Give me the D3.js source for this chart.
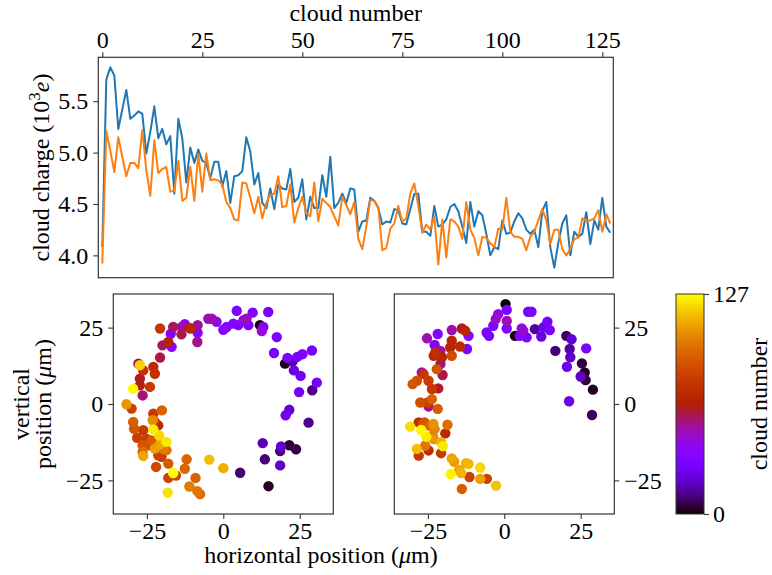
<!DOCTYPE html>
<html>
<head>
<meta charset="utf-8">
<script src="https://cdn.jsdelivr.net/npm/d3@7"></script>
<style>
  html, body { margin: 0; padding: 0; background: #fff; }
  svg { display: block; font-family: "Liberation Serif", "Times New Roman", serif; }
</style>
</head>
<body>
<svg id="fig" width="772" height="575"></svg>
<script>
// Cloud charge for each cloud number, two measurement channels
const chargeBlue = [4.08,5.71,5.83,5.75,5.23,5.42,5.61,5.33,5.36,5.40,5.38,4.99,5.20,5.45,5.14,5.23,5.08,5.16,4.60,5.33,
  5.14,4.71,5.05,4.90,5.03,4.92,4.90,4.75,4.91,4.91,4.67,4.82,4.51,4.77,4.78,4.82,5.15,5.01,4.69,4.80,
  4.51,4.46,4.65,4.45,4.69,4.65,4.64,4.84,4.52,4.56,4.74,4.35,4.57,4.46,4.46,4.78,4.57,4.96,4.46,4.51,
  4.60,4.51,4.65,4.64,4.23,4.33,4.34,4.56,4.53,4.46,4.30,4.33,4.32,4.45,4.44,4.31,4.30,4.45,4.60,4.60,
  4.23,4.23,4.19,4.48,4.28,4.30,4.35,4.47,4.50,4.43,4.28,4.12,4.52,4.28,4.43,4.39,4.21,4.00,4.08,4.06,
  4.34,4.21,4.22,4.33,4.41,4.36,4.25,4.21,4.25,4.08,4.43,4.52,4.08,3.88,4.12,4.31,4.39,4.00,4.23,4.18,
  4.21,4.42,4.11,4.34,4.25,4.56,4.28,4.22];
const chargeOrange = [3.92,5.21,5.02,4.81,5.15,4.96,4.77,4.90,4.90,4.85,5.22,4.83,4.58,5.12,4.80,4.84,4.86,4.62,4.63,4.92,
  4.53,4.56,4.86,4.53,4.99,4.62,4.99,4.73,4.74,4.73,4.69,4.52,4.46,4.35,4.34,4.71,4.70,4.56,4.41,4.57,
  4.36,4.51,4.59,4.60,4.77,4.47,4.48,4.69,4.32,4.46,4.57,4.41,4.38,4.71,4.33,4.55,4.51,4.47,4.38,4.29,
  4.57,4.49,4.40,4.52,4.16,4.06,4.28,4.54,4.53,4.47,4.05,4.07,4.26,4.31,4.48,4.33,4.36,4.60,4.70,4.48,
  4.22,4.30,4.25,4.38,3.91,4.35,3.98,4.35,4.33,4.28,4.16,4.52,4.25,4.17,4.00,4.18,4.17,4.12,4.08,4.26,
  4.25,4.56,4.23,4.18,4.18,4.16,4.05,4.18,4.23,4.34,4.45,4.34,4.11,4.25,4.25,4.06,4.00,4.06,4.16,4.17,
  4.36,4.34,4.34,4.36,4.44,4.23,4.40,4.31];

const cloudTicks = [0, 25, 50, 75, 100, 125];
const chargeTicks = [4.0, 4.5, 5.0, 5.5];
const posTicks = [-25, 0, 25];
const cloudMax = 127;

// Cloud positions (µm) in the two views, with the cloud number of each
const leftX = [-20.7,-17.2,-16.4,-13.6,-12.6,-13.7,-11.1,-10.7,-8.4,-8.4,-8.5,-16.9,-18.0,-19.9,-20.7,-4.9,-3.8,-2.2,0.0,1.1,
  4.4,3.3,4.9,6.6,7.6,8.2,9.6,14.7,12.0,13.1,12.6,17.5,16.6,20.2,21.0,22.7,24.2,25.9,29.0,23.1,
  25.3,30.6,24.8,29.1,21.6,20.4,27.9,12.9,18.9,18.6,21.6,23.8,13.6,18.6,5.5,14.8,
  -4.6,0.0,-12.0,-12.6,-9.1,-11.1,-8.5,-7.6,-18.2,-16.4,-18.0,-15.5,-18.0,-22.0,-18.6,-21.0,-22.9,-20.7,-22.4,-19.7,
  -18.6,-21.3,-20.2,-26.2,-26.4,-23.5,-25.1,-28.2,-26.4,-24.0,-26.2,-29.2,-29.5,-22.9,-23.1,-21.3,-22.4,-20.1,-31.7,-30.0,
  -29.5,-26.4,-24.0,-27.3,-27.3,-27.8,-27.3,-26.2,-22.9,-22.4];
const leftY = [24.7,23.0,25.2,25.2,26.1,22.8,24.9,24.7,25.8,23.3,20.3,18.7,20.3,19.2,15.2,27.9,27.9,26.9,24.3,25.2,
  30.5,26.3,25.8,27.4,27.9,25.8,29.9,30.1,25.8,25.2,23.9,21.9,16.7,13.2,15.1,14.0,15.4,16.3,17.5,11.0,
  9.2,7.0,3.9,4.5,-1.9,-3.7,-6.1,-12.8,-13.9,-15.4,-13.5,-14.8,-18.1,-20.1,-22.5,-26.9,
  -18.2,-21.0,-18.1,-21.2,-24.2,-27.0,-28.5,-29.5,-29.0,-22.6,-24.2,-23.4,-19.5,-20.6,-12.4,-10.3,-8.3,-13.2,-14.6,-14.6,
  -15.1,-16.8,-17.3,-17.0,-15.7,-11.9,-11.4,-11.1,-13.5,-13.5,-8.6,-8.1,-5.9,-3.2,-5.3,-7.0,-5.9,-2.1,-0.1,-1.5,
  5.0,2.8,5.6,6.1,8.3,13.2,12.7,11.0,12.1,9.9];
const leftN = [75,32,56,48,34,57,66,68,50,36,52,35,65,55,58,47,48,38,36,33,
  30,34,31,42,46,33,31,29,1,33,42,30,28,2,30,15,28,30,28,22,
  25,27,26,12,20,25,12,16,20,11,4,6,10,18,9,3,
  115,112,93,94,92,100,98,96,122,127,80,82,90,83,123,120,124,110,108,100,
  97,80,78,110,95,90,78,79,88,86,77,88,91,76,104,70,72,92,106,80,
  126,54,78,62,60,58,119,74,70,73];

const rightX = [0.4,0.8,-2.0,-2.8,0.8,0.8,-3.6,-5.8,-5.0,3.5,5.1,6.2,5.7,7.3,7.8,8.9,10.0,12.1,12.8,14.1,
  14.9,20.3,22.0,26.8,16.7,21.4,21.6,20.5,25.4,26.3,25.0,26.6,29.0,21.2,28.7,
  -25.3,-21.8,-22.8,-17.2,-13.9,-12.8,-11.7,-12.2,-17.2,-17.7,-14.5,-20.9,-22.6,-23.1,-20.4,-17.2,-20.9,-22.1,-20.2,-26.4,
  -27.0,-28.6,-30.0,-24.8,-23.7,-21.6,-23.7,-25.1,-27.5,-24.8,-21.8,-26.1,-28.0,-23.2,-18.6,-19.3,-30.8,-27.2,-25.5,-23.5,
  -20.7,-20.1,-25.9,-28.6,-28.0,-24.8,-20.7,-17.2,-16.4,-12.5,-11.7,-7.9,-14.8,-14.1,-17.5,-11.4,-7.9,-5.7,-2.7,-13.9,
  -26.7,-24.5,-22.8,-23.1];
const rightY = [32.7,30.8,29.4,27.8,27.2,24.7,25.6,23.4,22.3,22.3,22.3,24.0,24.7,21.8,30.2,30.2,24.5,22.1,25.1,26.9,
  24.2,22.3,21.2,18.2,17.4,18.0,15.3,12.2,13.3,10.3,9.0,7.8,4.7,0.9,-3.6,
  21.5,22.9,19.3,24.2,24.7,24.0,22.3,18.0,20.7,18.5,18.8,17.4,16.9,15.8,15.3,15.8,13.1,11.4,9.5,9.8,
  10.3,7.6,6.5,7.6,4.9,5.1,1.6,0.5,0.5,-0.8,-1.6,-6.0,-6.0,-6.5,-6.8,-9.6,-7.4,-8.5,-10.7,-10.4,
  -12.5,-13.8,-13.6,-14.7,-16.9,-15.2,-16.1,-17.8,-18.9,-19.4,-19.6,-20.8,-21.6,-22.6,-22.9,-23.9,-24.5,-24.5,-26.7,-27.8,
  -6.5,-7.1,-8.2,-11.5];
const rightN = [0,30,40,45,48,32,33,30,28,2,32,44,42,30,28,30,14,22,24,28,
  30,8,20,28,10,14,18,24,5,2,18,5,3,24,7,
  48,33,31,48,60,66,35,30,68,66,70,50,72,68,66,85,52,88,58,76,
  50,86,88,78,76,60,92,80,86,52,90,88,70,105,96,68,121,126,124,95,
  113,123,98,115,76,72,78,110,108,112,114,120,111,113,125,80,109,82,116,90,
  84,94,102,106];

// gnuplot colour map: r = sqrt(t), g = t^3, b = sin(2πt), clipped to [0, 1]
function gnuplot(t) {
  const c = v => Math.round(255 * Math.max(0, Math.min(1, v)));
  return `rgb(${c(Math.sqrt(t))},${c(t * t * t)},${c(Math.sin(2 * Math.PI * t))})`;
}
const colour = n => gnuplot(n / cloudMax);

const svg = d3.select("#fig");
const FS = 24;
const spine = "#333";

function frame(g, x0, y0, x1, y1) {
  g.append("rect").attr("x", x0).attr("y", y0).attr("width", x1 - x0).attr("height", y1 - y0)
    .attr("fill", "none").attr("stroke", spine).attr("stroke-width", 1.2);
}
function styleAxis(sel) {
  sel.select(".domain").remove();
  sel.selectAll(".tick line").attr("stroke", spine).attr("stroke-width", 1.1);
  sel.selectAll(".tick text").attr("font-size", FS).attr("fill", "#000")
    .attr("font-family", "Liberation Serif, serif");
}
const fmtMinus = d => d < 0 ? "\u2212" + Math.abs(d) : String(d);

// ---------- Top panel: cloud charge vs cloud number ----------
const topBox = { l: 98.3, r: 613.3, t: 57.3, b: 277.7 };
const xCloud = d3.scaleLinear().domain([-1, 127.75]).range([topBox.l, topBox.r]);
const allCharge = chargeBlue.concat(chargeOrange);
const cMin = d3.min(allCharge), cMax = d3.max(allCharge), pad = 0.05 * (cMax - cMin);
const yCharge = d3.scaleLinear().domain([cMin - pad, cMax + pad]).range([topBox.b, topBox.t]);

const gTop = svg.append("g");
gTop.append("defs").append("clipPath").attr("id", "clipTop")
  .append("rect").attr("x", topBox.l).attr("y", topBox.t).attr("width", topBox.r - topBox.l).attr("height", topBox.b - topBox.t);

const chargeLine = d3.line().x((d, i) => xCloud(i)).y(d => yCharge(d));
gTop.append("path").datum(chargeBlue).attr("d", chargeLine).attr("fill", "none")
  .attr("stroke", "#1f77b4").attr("stroke-width", 2).attr("stroke-linejoin", "round").attr("clip-path", "url(#clipTop)");
gTop.append("path").datum(chargeOrange).attr("d", chargeLine).attr("fill", "none")
  .attr("stroke", "#ff7f0e").attr("stroke-width", 2).attr("stroke-linejoin", "round").attr("clip-path", "url(#clipTop)");

gTop.append("g").attr("transform", `translate(0,${topBox.t})`)
  .call(d3.axisTop(xCloud).tickValues(cloudTicks).tickSize(5).tickPadding(4).tickFormat(d3.format("d")))
  .call(styleAxis);
gTop.append("g").attr("transform", `translate(${topBox.l},0)`)
  .call(d3.axisLeft(yCharge).tickValues(chargeTicks).tickSize(5).tickPadding(5).tickFormat(d3.format(".1f")))
  .call(styleAxis);
frame(gTop, topBox.l, topBox.t, topBox.r, topBox.b);

gTop.append("text").attr("x", (topBox.l + topBox.r) / 2).attr("y", 21).attr("text-anchor", "middle")
  .attr("font-size", FS).text("cloud number");

const yl = gTop.append("text").attr("transform", `translate(49,${(topBox.t + topBox.b) / 2}) rotate(-90)`)
  .attr("text-anchor", "middle").attr("font-size", FS);
yl.append("tspan").text("cloud charge (10");
yl.append("tspan").attr("dy", -9).attr("font-size", 17).text("3");
yl.append("tspan").attr("dy", 9).attr("font-style", "italic").text("e");
yl.append("tspan").text(")");

// ---------- Bottom panels: cloud positions ----------
const lim = 36;
function scatterPanel(x0, y0, size, xs, ys, ns, yAxisSide) {
  const g = svg.append("g");
  const sx = d3.scaleLinear().domain([-lim, lim]).range([x0, x0 + size]);
  const sy = d3.scaleLinear().domain([-lim, lim]).range([y0 + size, y0]);
  const pts = ns.map((n, i) => ({ x: xs[i], y: ys[i], n })).sort((a, b) => a.n - b.n);
  g.selectAll("circle").data(pts).join("circle")
    .attr("cx", d => sx(d.x)).attr("cy", d => sy(d.y)).attr("r", 5.2)
    .attr("fill", d => colour(d.n));
  g.append("g").attr("transform", `translate(0,${y0 + size})`)
    .call(d3.axisBottom(sx).tickValues(posTicks).tickSize(5).tickPadding(3).tickFormat(fmtMinus))
    .call(styleAxis);
  if (yAxisSide === "left") {
    g.append("g").attr("transform", `translate(${x0},0)`)
      .call(d3.axisLeft(sy).tickValues(posTicks).tickSize(5).tickPadding(5).tickFormat(fmtMinus))
      .call(styleAxis);
  } else {
    g.append("g").attr("transform", `translate(${x0 + size},0)`)
      .call(d3.axisRight(sy).tickValues(posTicks).tickSize(5).tickPadding(5).tickFormat(fmtMinus))
      .call(styleAxis);
  }
  frame(g, x0, y0, x0 + size, y0 + size);
}
scatterPanel(113.3, 294, 220, leftX, leftY, leftN, "left");
scatterPanel(394.3, 294, 220, rightX, rightY, rightN, "right");

const vl = svg.append("text").attr("transform", "translate(0,404) rotate(-90)")
  .attr("text-anchor", "middle").attr("font-size", FS);
vl.append("tspan").attr("x", 0).attr("y", 29).text("vertical");
const vl2 = svg.append("text").attr("transform", "translate(0,404) rotate(-90)")
  .attr("text-anchor", "middle").attr("font-size", FS).attr("y", 51);
vl2.append("tspan").text("position (");
vl2.append("tspan").attr("font-style", "italic").text("\u03bc");
vl2.append("tspan").text("m)");

const hl = svg.append("text").attr("x", 321).attr("y", 563).attr("text-anchor", "middle").attr("font-size", FS);
hl.append("tspan").text("horizontal position (");
hl.append("tspan").attr("font-style", "italic").text("\u03bc");
hl.append("tspan").text("m)");

// ---------- Colour bar ----------
const cb = { x: 676, w: 28, t: 294, b: 514 };
const grad = svg.append("defs").append("linearGradient").attr("id", "cbGrad")
  .attr("x1", 0).attr("y1", 1).attr("x2", 0).attr("y2", 0);
d3.range(0, 101).forEach(k => {
  grad.append("stop").attr("offset", k / 100).attr("stop-color", gnuplot(k / 100));
});
svg.append("rect").attr("x", cb.x).attr("y", cb.t).attr("width", cb.w).attr("height", cb.b - cb.t)
  .attr("fill", "url(#cbGrad)");
const sCb = d3.scaleLinear().domain([0, cloudMax]).range([cb.b, cb.t]);
svg.append("g").attr("transform", `translate(${cb.x + cb.w},0)`)
  .call(d3.axisRight(sCb).tickValues([0, cloudMax]).tickSize(5).tickPadding(4).tickFormat(d3.format("d")))
  .call(styleAxis);
svg.append("rect").attr("x", cb.x).attr("y", cb.t).attr("width", cb.w).attr("height", cb.b - cb.t)
  .attr("fill", "none").attr("stroke", spine).attr("stroke-width", 1);
svg.append("text").attr("transform", `translate(767,${(cb.t + cb.b) / 2}) rotate(-90)`)
  .attr("text-anchor", "middle").attr("font-size", FS).text("cloud number");
</script>
</body>
</html>
